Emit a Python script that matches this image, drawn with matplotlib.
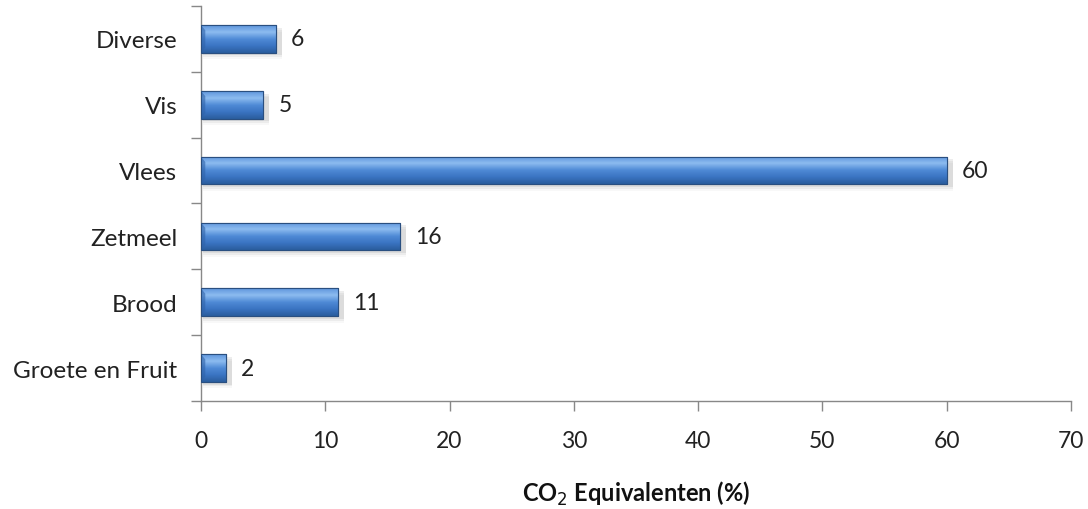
import matplotlib.pyplot as plt
import numpy as np
from matplotlib.colors import LinearSegmentedColormap
from matplotlib.patches import Rectangle

# CO2 share per food group (%)
categories = ["Groete en Fruit", "Brood", "Zetmeel", "Vlees", "Vis", "Diverse"]
values = [2, 11, 16, 60, 5, 6]
xticks = [0, 10, 20, 30, 40, 50, 60, 70]

plt.rcParams['font.family'] = ['Lato', 'DejaVu Sans']
FS = 16.5

fig = plt.figure(figsize=(10.88, 5.10), dpi=100)
ax = fig.add_axes([0.1847, 0.2118, 0.7997, 0.7745])

ypos = np.arange(len(categories))
bar_h = 0.42

# vertical gradient for the bars: light top, dark bottom
grad = LinearSegmentedColormap.from_list(
    "barblue", ["#2b5d9e", "#3a74c2", "#4f8ad6", "#8dbcf0", "#5e95dc"])
g = np.linspace(0, 1, 64).reshape(-1, 1)

for y, v in zip(ypos, values):
    # soft shadow below the bar
    for i, a in enumerate([0.10, 0.07, 0.04]):
        ax.add_patch(Rectangle((0.2, y - bar_h / 2 - 0.04 - i * 0.03), v + 0.3, bar_h,
                               facecolor="#555555", alpha=a, edgecolor="none", zorder=1))
    bar = ax.barh(y, v, height=bar_h, color="#3a74c2", edgecolor="#2a4f80",
                  linewidth=0.8, zorder=2)[0]
    im = ax.imshow(g, cmap=grad, aspect="auto", origin="lower",
                   extent=[0, v, y - bar_h / 2, y + bar_h / 2], zorder=3)
    im.set_clip_path(bar)
    # bevelled left end cap
    ax.fill([0, 0.35, 0.35, 0], [y + bar_h / 2, y + bar_h / 2 - 0.08,
                                 y - bar_h / 2 + 0.08, y - bar_h / 2],
            color="#2f62a8", alpha=0.6, zorder=4, lw=0)
    ax.add_patch(Rectangle((0, y - bar_h / 2), v, bar_h, facecolor="none",
                           edgecolor="#2a4f80", linewidth=0.8, zorder=5))
    ax.annotate(str(v), (v, y), xytext=(11, 0), textcoords="offset points",
                va="center", ha="left", fontsize=FS, color="#222222")

ax.set_xlim(0, 70)
ax.set_ylim(-0.5, len(categories) - 0.5)
ax.set_xticks(xticks)
ax.tick_params(axis="x", labelsize=FS, colors="#222222", length=7,
               width=1, color="#888888", pad=14)

# category labels centred, tick marks at the boundaries
ax.set_yticks(ypos)
ax.set_yticklabels(categories, fontsize=17.5, color="#222222")
ax.tick_params(axis="y", which="major", length=0, pad=17)
ax.set_yticks(np.arange(-0.5, len(categories), 1.0), minor=True)
ax.tick_params(axis="y", which="minor", length=7, width=1, color="#888888")

for s in ["top", "right"]:
    ax.spines[s].set_visible(False)
for s in ["left", "bottom"]:
    ax.spines[s].set_color("#888888")
    ax.spines[s].set_linewidth(1)

ax.set_xlabel("CO$_2$ Equivalenten (%)", fontsize=17, fontweight="bold",
              color="#111111", labelpad=20)

fig.savefig("out.png", dpi=100)
